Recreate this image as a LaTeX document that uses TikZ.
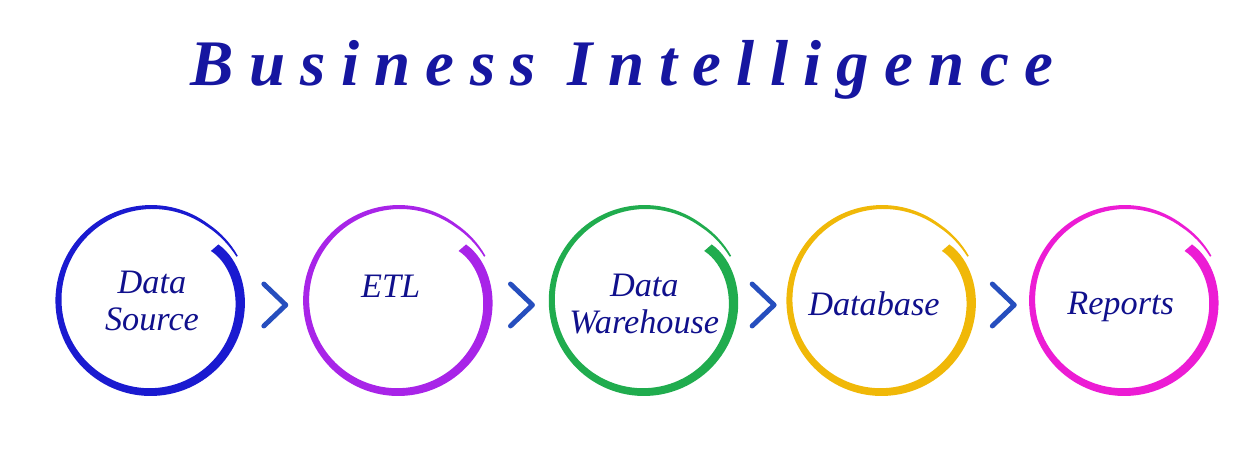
\documentclass[tikz,border=0pt]{standalone}
\usepackage{fontspec}
\setmainfont{Liberation Serif}
\newfontfamily\headfont[LetterSpace=23.5]{Liberation Serif}
\usetikzlibrary{positioning,calc}

\definecolor{titleblue}{RGB}{22,22,160}
\definecolor{textnavy}{RGB}{16,16,140}
\definecolor{srcblue}{RGB}{26,26,208}
\definecolor{etlviolet}{RGB}{168,36,232}
\definecolor{whgreen}{RGB}{32,172,78}
\definecolor{dbgold}{RGB}{240,184,8}
\definecolor{reppink}{RGB}{236,28,212}
\definecolor{chevblue}{RGB}{38,78,190}

\tikzset{
  ring/.style={circle,minimum size=3.72cm,inner sep=0pt},
  lbl/.style={text=textnavy,align=center,font=\fontsize{19.5}{21.5}\selectfont\itshape},
  chev/.style={chevblue,line width=2.8pt,line cap=round,line join=round},
  heading/.style={text=titleblue,font=\headfont\fontsize{37}{40}\selectfont\bfseries\itshape},
  declare function={rr(\t)=89+6*\t-6*exp(-25*\t)+30*max(0,\t-0.93); ww(\t)=1.5+8.5*(1-\t)^0.7;}
}

% brush stroke round a ring node
\newcommand{\brushring}[2]{%
  \fill[#2,shift={(#1)}]
    plot[domain=0:0.999,samples=120] ({40-373*\x}:{rr(\x)+ww(\x)/2})
    -- plot[domain=0.999:0,samples=120] ({40-373*\x}:{rr(\x)-ww(\x)/2}) -- cycle;}

\begin{document}
\begin{tikzpicture}[x=0.02cm,y=0.02cm]
\useasboundingbox (0,0) rectangle (1246,-453);
\node[heading,anchor=base] (ttl) at (622,-85) {Business Intelligence};

\node[ring] (src) at (151,-301) {};
\node[ring,right=1.22cm of src] (etl) {};
\node[ring,right=1.18cm of etl] (wh) {};
\node[ring,right=1.02cm of wh] (db) {};
\node[ring,right=1.12cm of db] (rep) {};

\brushring{src}{srcblue}
\brushring{etl}{etlviolet}
\brushring{wh}{whgreen}
\brushring{db}{dbgold}
\brushring{rep}{reppink}

\node[lbl] (srct) at ([shift={(1,0)}]src) {Data\\Source};
\node[lbl] (etlt) at ([shift={(-8,15)}]etl) {ETL};
\node[lbl] (wht) at ([shift={(0,-3)}]wh) {Data\\Warehouse};
\node[lbl] (dbt) at ([shift={(-8,-3)}]db) {Database};
\node[lbl] (rept) at ([shift={(-4,-6)}]rep) {Reports};

\foreach \a/\b in {src/etl,etl/wh,wh/db,db/rep}{
  \coordinate (m) at ($(\a.east)!0.5!(\b.west)+(0,-4)$);
  \draw[chev] ([shift={(-11,21)}]m) -- ([shift={(11,0)}]m) -- ([shift={(-11,-21)}]m);
}
\end{tikzpicture}
\end{document}
